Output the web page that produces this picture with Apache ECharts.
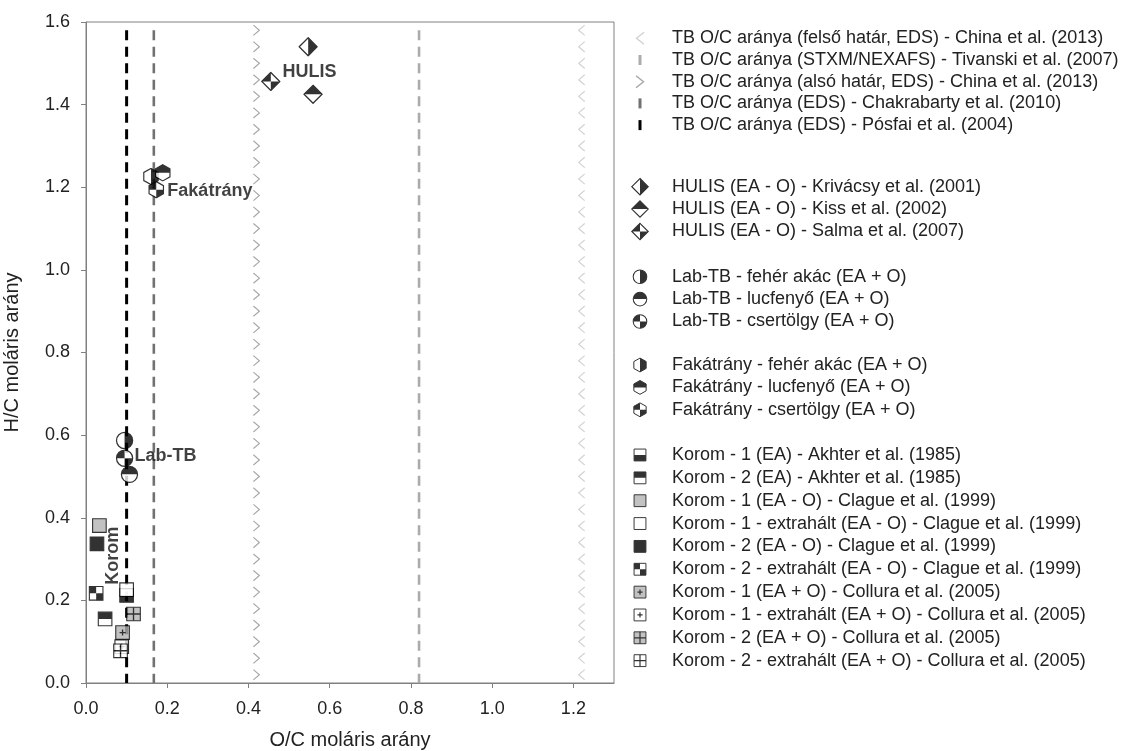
<!DOCTYPE html>
<html>
<head>
<meta charset="utf-8">
<title>H/C - O/C</title>
<script src="https://cdn.jsdelivr.net/npm/echarts@6/dist/echarts.min.js"></script>
<style>
  html, body { margin: 0; padding: 0; background: #fff; }
  #chart { width: 1131px; height: 751px; }
</style>
</head>
<body>
<div id="chart"></div>
<script>
// TB O/C reference values (vertical markers)
const tbNames = [
  "TB O/C aránya (felső határ, EDS) - China et al. (2013)",
  "TB O/C aránya (STXM/NEXAFS) - Tivanski et al. (2007)",
  "TB O/C aránya (alsó határ, EDS) - China et al. (2013)",
  "TB O/C aránya (EDS) - Chakrabarty et al. (2010)",
  "TB O/C aránya (EDS) - Pósfai et al. (2004)",
];
const tbX = [1.22, 0.82, 0.42, 0.167, 0.1];
const lineSpanY = [0, 1.58];
const chevronY = [
  1.58, 1.54, 1.5, 1.46, 1.42, 1.38, 1.34, 1.3, 1.26, 1.22,
  1.18, 1.14, 1.1, 1.06, 1.02, 0.98, 0.94, 0.9, 0.86, 0.82,
  0.78, 0.74, 0.7, 0.66, 0.62, 0.58, 0.54, 0.5, 0.46, 0.42,
  0.38, 0.34, 0.3, 0.26, 0.22, 0.18, 0.14, 0.1, 0.06, 0.02,
];

const hulisNames = [
  "HULIS (EA - O) - Krivácsy et al. (2001)",
  "HULIS (EA - O) - Kiss et al. (2002)",
  "HULIS (EA - O) - Salma et al. (2007)",
];
const hulisX = [0.547, 0.559, 0.455];
const hulisY = [1.54, 1.425, 1.456];

const labNames = [
  "Lab-TB - fehér akác (EA + O)",
  "Lab-TB - lucfenyő (EA + O)",
  "Lab-TB - csertölgy (EA + O)",
];
const labX = [0.095, 0.107, 0.095];
const labY = [0.587, 0.505, 0.544];

const tarNames = [
  "Fakátrány - fehér akác (EA + O)",
  "Fakátrány - lucfenyő (EA + O)",
  "Fakátrány - csertölgy (EA + O)",
];
const tarX = [0.16, 0.189, 0.173];
const tarY = [1.226, 1.235, 1.194];

const koromNames = [
  "Korom - 1 (EA) - Akhter et al. (1985)",
  "Korom - 2 (EA) - Akhter et al. (1985)",
  "Korom - 1 (EA - O) - Clague et al. (1999)",
  "Korom - 1 - extrahált (EA - O) - Clague et al. (1999)",
  "Korom - 2 (EA - O) - Clague et al. (1999)",
  "Korom - 2 - extrahált (EA - O) - Clague et al. (1999)",
  "Korom - 1 (EA + O) - Collura et al. (2005)",
  "Korom - 1 - extrahált (EA + O) - Collura et al. (2005)",
  "Korom - 2 (EA + O) - Collura et al. (2005)",
  "Korom - 2 - extrahált (EA + O) - Collura et al. (2005)",
];
const koromX = [0.1, 0.047, 0.033, 0.1, 0.027, 0.025, 0.09, 0.088, 0.117, 0.085];
const koromY = [0.212, 0.155, 0.381, 0.226, 0.337, 0.217, 0.122, 0.088, 0.167, 0.078];

const groupLabels = ["HULIS", "Fakátrány", "Lab-TB", "Korom"];
const groupLabelX = [0.55, 0.305, 0.196, 0.066];
const groupLabelY = [1.479, 1.19, 0.55, 0.308];

const xTicks = [0, 0.2, 0.4, 0.6, 0.8, 1.0, 1.2];

// ---- symbol drawing (svg images) ----
function svgImg(w, h, body, pad) {
  pad = pad || 0;
  const vb = -pad + " " + -pad + " " + (w + 2 * pad) + " " + (h + 2 * pad);
  const s =
    '<svg xmlns="http://www.w3.org/2000/svg" width="' + (w + 2 * pad) +
    '" height="' + (h + 2 * pad) + '" viewBox="' + vb + '">' + body + "</svg>";
  return "image://data:image/svg+xml;charset=utf-8," + encodeURIComponent(s);
}

function marker(outline, fill, blacks, lines, pad) {
  let body = '<path d="' + outline + '" fill="' + fill + '"/>';
  blacks.forEach(function (d) {
    body += '<path d="' + d + '" fill="#000"/>';
  });
  if (lines) {
    body += '<path d="' + lines + '" fill="none" stroke="#000" stroke-width="1.6"/>';
  }
  body += '<path d="' + outline + '" fill="none" stroke="#000" stroke-width="1.3"/>';
  return svgImg(20, 20, body, pad);
}

const DIA = "M10 1 L19 10 L10 19 L1 10 Z";
const CIR = "M10 1.5 A8.5 8.5 0 1 1 10 18.5 A8.5 8.5 0 1 1 10 1.5 Z";
const HEX = "M10 1 L18 5.5 L18 14.5 L10 19 L2 14.5 L2 5.5 Z";
const SQ = "M2 2 H18 V18 H2 Z";

function hulisSym(i, pad) {
  const halves = [
    ["M10 1 L19 10 L10 19 Z"],
    ["M1 10 L10 1 L19 10 Z"],
    ["M10 1 L10 10 L1 10 Z", "M19 10 L10 10 L10 19 Z"],
  ];
  return marker(DIA, "#fff", halves[i], null, pad);
}
function labSym(i, pad) {
  const halves = [
    ["M10 1.5 A8.5 8.5 0 0 1 10 18.5 Z"],
    ["M1.5 10 A8.5 8.5 0 0 1 18.5 10 Z"],
    ["M10 10 L1.5 10 A8.5 8.5 0 0 1 10 1.5 Z", "M10 10 L18.5 10 A8.5 8.5 0 0 1 10 18.5 Z"],
  ];
  return marker(CIR, "#fff", halves[i], null, pad);
}
function tarSym(i, pad) {
  const halves = [
    ["M10 1 L18 5.5 L18 14.5 L10 19 Z"],
    ["M2 10 L2 5.5 L10 1 L18 5.5 L18 10 Z"],
    ["M10 10 L2 10 L2 5.5 L10 1 Z", "M10 10 L18 10 L18 14.5 L10 19 Z"],
  ];
  return marker(HEX, "#fff", halves[i], null, pad);
}
function koromSym(i, pad) {
  const gray = "#b3b3b3";
  const plus = "M10 6.5 V13.5 M6.5 10 H13.5";
  const grid = "M10 2 V18 M2 10 H18";
  const defs = [
    ["#fff", ["M2 10 H18 V18 H2 Z"], null],
    ["#fff", ["M2 2 H18 V10 H2 Z"], null],
    [gray, [], null],
    ["#fff", [], null],
    ["#000", [], null],
    ["#fff", ["M2 2 H10 V10 H2 Z", "M10 10 H18 V18 H10 Z"], null],
    [gray, [], plus],
    ["#fff", [], plus],
    [gray, [], grid],
    ["#fff", [], grid],
  ];
  return marker(SQ, defs[i][0], defs[i][1], defs[i][2], pad);
}

function chevron(dir, color, pad) {
  const d = dir === "<" ? "M9 1 L1.5 7 L9 13" : "M1 1 L8.5 7 L1 13";
  return svgImg(10, 14, '<path d="' + d + '" fill="none" stroke="' + color + '" stroke-width="1.4"/>', pad);
}
function bar(color) {
  return svgImg(6, 20, '<rect x="1.5" y="5" width="3" height="10" fill="' + color + '"/>');
}

const tbColors = ["#c6c6c6", "#ababab", "#909090", "#717171", "#000"];

// ---- series ----
const series = [];

[0, 2].forEach(function (i) {
  series.push({
    name: tbNames[i],
    type: "scatter",
    z: 1,
    symbol: chevron(i === 0 ? "<" : ">", tbColors[i]),
    symbolSize: [8, 12],
    data: chevronY.map(function (y) {
      return [tbX[i], y];
    }),
  });
});

[1, 3, 4].forEach(function (i) {
  series.push({
    name: tbNames[i],
    type: "line",
    z: 1,
    symbol: "none",
    color: tbColors[i],
    lineStyle: { color: tbColors[i], width: i === 4 ? 3 : 2.6, type: [10, 6.5] },
    data: [
      [tbX[i], lineSpanY[1]],
      [tbX[i], lineSpanY[0]],
    ],
  });
});

function pointSeries(names, xs, ys, symFn, size) {
  names.forEach(function (name, i) {
    series.push({
      name: name,
      type: "scatter",
      z: 3,
      symbol: symFn(i),
      symbolSize: size,
      data: [[xs[i], ys[i]]],
    });
  });
}
pointSeries(hulisNames, hulisX, hulisY, hulisSym, 20);
pointSeries(labNames, labX, labY, labSym, 19);
pointSeries(tarNames, tarX, tarY, tarSym, 18);
pointSeries(koromNames, koromX, koromY, koromSym, 17);

series.push({
  type: "scatter",
  z: 4,
  silent: true,
  symbolSize: 0,
  data: groupLabels.map(function (name, i) {
    return {
      name: name,
      value: [groupLabelX[i], groupLabelY[i]],
      label: name === "Korom" ? { rotate: 90 } : {},
    };
  }),
  label: {
    show: true,
    position: "inside",
    formatter: "{b}",
    fontFamily: "Liberation Sans",
    fontSize: 18,
    fontWeight: "bold",
    color: "#111",
  },
});

// ---- legends ----
function legendBlock(top, gap, items) {
  return {
    orient: "vertical",
    left: 613,
    top: top,
    padding: 0,
    itemGap: gap,
    itemWidth: 54,
    itemHeight: 20,
    selectedMode: false,
    textStyle: {
      fontFamily: "Liberation Sans",
      fontSize: 18,
      lineHeight: 18,
      color: "#222",
    },
    data: items,
  };
}

const tbIcons = [
  chevron("<", tbColors[0], 3),
  bar(tbColors[1]),
  chevron(">", tbColors[2], 3),
  bar(tbColors[3]),
  bar(tbColors[4]),
];

const legends = [
  legendBlock(28.3, 1.7, tbNames.map(function (n, i) { return { name: n, icon: tbIcons[i] }; })),
  legendBlock(176.7, 2.4, hulisNames.map(function (n, i) { return { name: n, icon: hulisSym(i, 1) }; })),
  legendBlock(266.7, 2.4, labNames.map(function (n, i) { return { name: n, icon: labSym(i, 2.5) }; })),
  legendBlock(355, 2.4, tarNames.map(function (n, i) { return { name: n, icon: tarSym(i, 3) }; })),
  legendBlock(445, 2.85, koromNames.map(function (n, i) { return { name: n, icon: koromSym(i, 3.5) }; })),
];

const tickText = { fontFamily: "Liberation Sans", fontSize: 18, color: "#222" };
const titleText = { fontFamily: "Liberation Sans", fontSize: 20, color: "#222" };

const myChart = echarts.init(document.getElementById("chart"));
const option = {
  animation: false,
  backgroundColor: "#fff",
  grid: {
    left: 86,
    top: 22,
    right: 517,
    bottom: 68,
    outerBoundsMode: "none",
    show: true,
    borderColor: "#808080",
    borderWidth: 1,
  },
  legend: legends,
  xAxis: {
    type: "value",
    min: 0,
    max: 1.3,
    name: "O/C moláris arány",
    nameLocation: "middle",
    nameGap: 47,
    nameTextStyle: titleText,
    axisLine: { lineStyle: { color: "#808080" } },
    axisTick: { customValues: xTicks, length: 5, lineStyle: { color: "#808080" } },
    axisLabel: {
      customValues: xTicks,
      margin: 17,
      formatter: function (v) { return v.toFixed(1); },
      ...tickText,
    },
    splitLine: { show: false },
  },
  yAxis: {
    type: "value",
    min: 0,
    max: 1.6,
    interval: 0.2,
    name: "H/C moláris arány",
    nameLocation: "middle",
    nameGap: 64,
    nameTextStyle: titleText,
    axisLine: { show: true, lineStyle: { color: "#808080" } },
    axisTick: { show: true, length: 5, lineStyle: { color: "#808080" } },
    axisLabel: {
      margin: 16,
      formatter: function (v) { return v.toFixed(1); },
      ...tickText,
    },
    splitLine: { show: false },
  },
  series: series,
};
myChart.setOption(option);

window.addEventListener("resize", function () {
  myChart.resize();
});
</script>
</body>
</html>
